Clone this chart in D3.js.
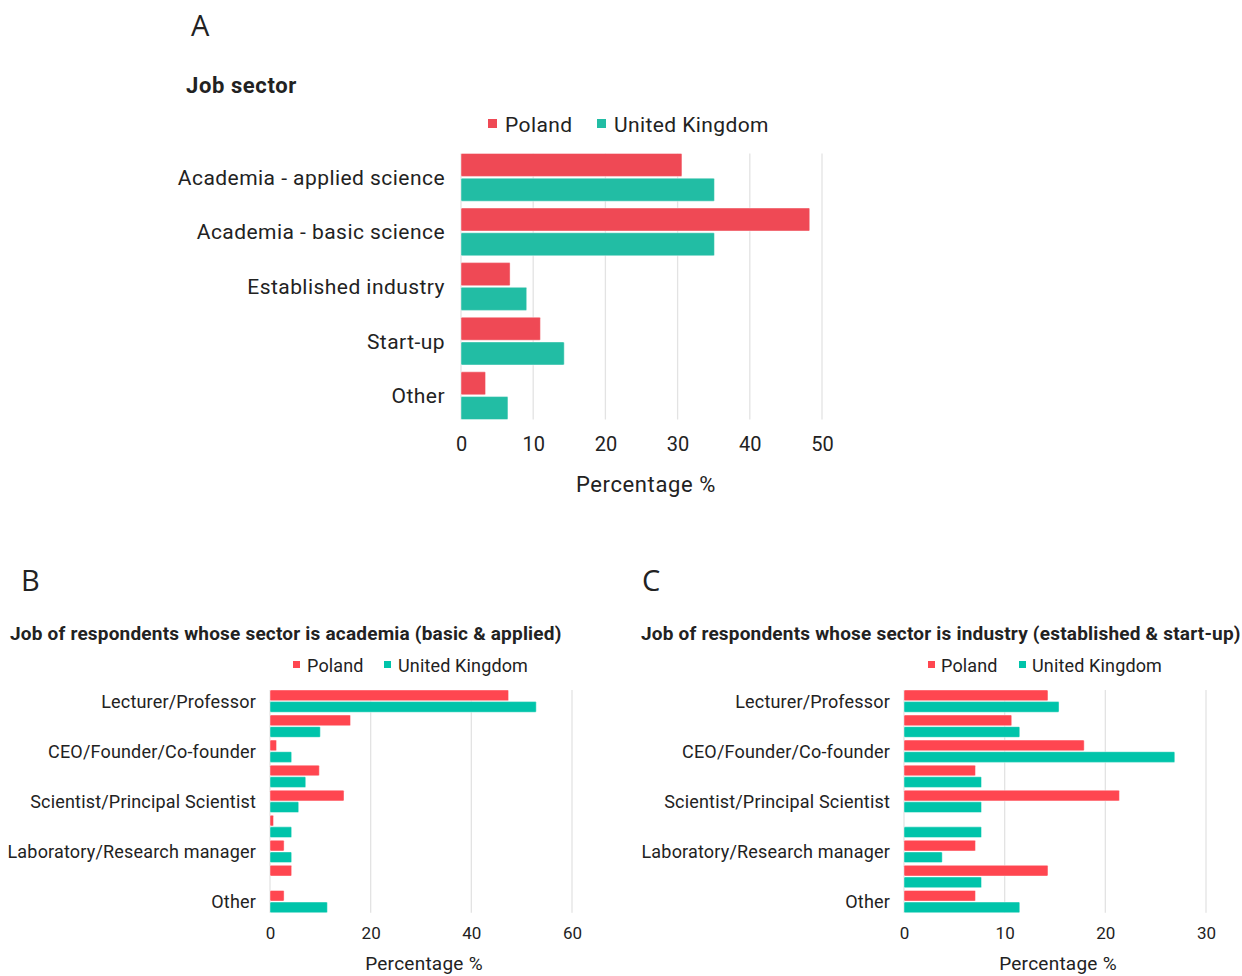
<!DOCTYPE html>
<html>
<head>
<meta charset="utf-8">
<script src="https://cdn.jsdelivr.net/npm/d3@7"></script>
<style>
  html, body { margin: 0; padding: 0; background: #fff; }
  svg { display: block; }
  text { font-family: Roboto, "Noto Sans", sans-serif; fill: #222; }
</style>
</head>
<body>
<svg id="chart" width="1242" height="976"></svg>
<script>
// ---- Panel A: job sector ----
const sectorCategories = [
  "Academia - applied science",
  "Academia - basic science",
  "Established industry",
  "Start-up",
  "Other"
];
const sectorPoland = [30.6, 48.3, 6.8, 11.0, 3.4];
const sectorUK = [35.1, 35.1, 9.1, 14.3, 6.5];
const sectorTicks = [0, 10, 20, 30, 40, 50];

// ---- Panel B: roles within academia ----
// Only every other row carries a visible axis label.
const academiaLabels = [
  "Lecturer/Professor", "",
  "CEO/Founder/Co-founder", "",
  "Scientist/Principal Scientist", "",
  "Laboratory/Research manager", "",
  "Other"
];
const academiaPoland = [47.4, 16.0, 1.3, 9.8, 14.7, 0.7, 2.8, 4.3, 2.8];
const academiaUK = [52.9, 10.0, 4.3, 7.1, 5.7, 4.3, 4.3, 0, 11.4];
const academiaTicks = [0, 20, 40, 60];

// ---- Panel C: roles within industry ----
const industryLabels = academiaLabels;
const industryPoland = [14.3, 10.7, 17.9, 7.1, 21.4, 0, 7.1, 14.3, 7.1];
const industryUK = [15.4, 11.5, 26.9, 7.7, 7.7, 7.7, 3.8, 7.7, 11.5];
const industryTicks = [0, 10, 20, 30];

const seriesNames = ["Poland", "United Kingdom"];

const svg = d3.select("#chart");

function drawPanel(opt) {
  const g = svg.append("g");
  const n = opt.labels.length;
  const x = d3.scaleLinear().domain(opt.domain).range([opt.x0, opt.x1]);
  const y = d3.scaleBand()
    .domain(d3.range(n))
    .range([opt.y0, opt.y1])
    .paddingInner(opt.padInner)
    .paddingOuter(opt.padInner / 2);
  const sub = d3.scaleBand()
    .domain([0, 1])
    .range([0, y.bandwidth()])
    .paddingInner(opt.subPad);

  const top = y(0);
  const bottom = y(n - 1) + y.bandwidth();

  // vertical gridlines
  g.append("g").selectAll("line")
    .data(opt.ticks)
    .join("line")
    .attr("x1", d => x(d)).attr("x2", d => x(d))
    .attr("y1", top).attr("y2", bottom)
    .attr("stroke", "#e3e3e3")
    .attr("stroke-width", 1.3);

  // bars
  const rows = d3.range(n).map(i => [opt.pl[i], opt.uk[i]]);
  const rowG = g.append("g").selectAll("g")
    .data(rows)
    .join("g")
    .attr("transform", (d, i) => `translate(0,${y(i)})`);
  rowG.selectAll("rect")
    .data(d => d.map((v, k) => ({ v, k })).filter(o => o.v > 0))
    .join("rect")
    .attr("x", x(0))
    .attr("y", d => sub(d.k))
    .attr("width", d => x(d.v) - x(0))
    .attr("height", sub.bandwidth())
    .attr("rx", 1)
    .attr("fill", d => opt.colors[d.k])
    .attr("stroke", "rgba(255,255,255,0.55)")
    .attr("stroke-width", 0.8);

  // category labels
  const yAxis = d3.axisLeft(y).tickSize(0).tickPadding(0)
    .tickFormat(i => opt.labels[i]);
  const ya = g.append("g")
    .attr("transform", `translate(${opt.labelX},0)`)
    .call(yAxis);
  ya.select(".domain").remove();
  ya.selectAll("text")
    .attr("font-size", opt.labelSize)
    .attr("letter-spacing", opt.labelSpacing)
    .attr("fill", "#222")
    .attr("dy", "0.36em");

  // value axis
  const xAxis = d3.axisBottom(x).tickValues(opt.ticks).tickSize(0).tickPadding(0)
    .tickFormat(d3.format("d"));
  const xa = g.append("g")
    .attr("transform", `translate(0,${opt.tickY})`)
    .call(xAxis);
  xa.select(".domain").remove();
  xa.selectAll("text")
    .attr("font-size", opt.tickSize)
    .attr("fill", "#222")
    .attr("dy", 0);

  g.append("text")
    .attr("x", opt.axisTitleX)
    .attr("y", opt.axisTitleY)
    .attr("text-anchor", "middle")
    .attr("font-size", opt.axisTitleSize)
    .attr("letter-spacing", opt.axisTitleSpacing)
    .text("Percentage %");

  // panel letter and title
  g.append("text")
    .attr("x", opt.letterX).attr("y", opt.letterY)
    .attr("font-size", 29)
    .style("font-family", "'Open Sans', sans-serif")
    .text(opt.letter);

  g.append("text")
    .attr("x", opt.titleX).attr("y", opt.titleY)
    .attr("font-size", opt.titleSize)
    .attr("letter-spacing", opt.titleSpacing)
    .attr("font-weight", "bold")
    .text(opt.title);

  // legend
  const lg = g.append("g");
  opt.legend.forEach((L, k) => {
    lg.append("rect")
      .attr("x", L.sx).attr("y", opt.legendY - opt.sq)
      .attr("width", opt.sq).attr("height", opt.sq)
      .attr("fill", opt.colors[k]);
    lg.append("text")
      .attr("x", L.tx).attr("y", opt.legendY + opt.legendDy)
      .attr("font-size", opt.legendSize)
      .attr("letter-spacing", opt.legendSpacing)
      .text(seriesNames[k]);
  });
}

drawPanel({
  letter: "A", letterX: 191, letterY: 36,
  title: "Job sector", titleX: 186, titleY: 93, titleSize: 22, titleSpacing: 0.6,
  labels: sectorCategories, pl: sectorPoland, uk: sectorUK,
  ticks: sectorTicks, domain: [0, 50],
  x0: 461, x1: 822, y0: 150, y1: 423, padInner: 0.125, subPad: 0.07,
  colors: ["#ef4955", "#22bda4"],
  labelX: 445, labelSize: 21, labelSpacing: 0.45,
  tickY: 451, tickSize: 20,
  axisTitleX: 646, axisTitleY: 492, axisTitleSize: 22, axisTitleSpacing: 0.6,
  legendY: 128, sq: 9, legendDy: 4, legendSize: 21, legendSpacing: 0.4,
  legend: [{ sx: 488, tx: 505 }, { sx: 597, tx: 614 }]
});

drawPanel({
  letter: "B", letterX: 21, letterY: 591,
  title: "Job of respondents whose sector is academia (basic & applied)",
  titleX: 10, titleY: 640, titleSize: 19, titleSpacing: 0.2,
  labels: academiaLabels, pl: academiaPoland, uk: academiaUK,
  ticks: academiaTicks, domain: [0, 60],
  x0: 270, x1: 572, y0: 688.6, y1: 914.1, padInner: 0.11, subPad: 0.08,
  colors: ["#ff4650", "#00c4aa"],
  labelX: 256, labelSize: 18, labelSpacing: 0.18,
  tickY: 939, tickSize: 17,
  axisTitleX: 424, axisTitleY: 970, axisTitleSize: 19, axisTitleSpacing: 0.25,
  legendY: 668, sq: 7, legendDy: 4, legendSize: 18, legendSpacing: 0.15,
  legend: [{ sx: 293, tx: 307 }, { sx: 384, tx: 398 }]
});

drawPanel({
  letter: "C", letterX: 642, letterY: 591,
  title: "Job of respondents whose sector is industry (established & start-up)",
  titleX: 641, titleY: 640, titleSize: 19, titleSpacing: 0.2,
  labels: industryLabels, pl: industryPoland, uk: industryUK,
  ticks: industryTicks, domain: [0, 30],
  x0: 904, x1: 1206, y0: 688.6, y1: 914.1, padInner: 0.11, subPad: 0.08,
  colors: ["#ff4650", "#00c4aa"],
  labelX: 890, labelSize: 18, labelSpacing: 0.18,
  tickY: 939, tickSize: 17,
  axisTitleX: 1058, axisTitleY: 970, axisTitleSize: 19, axisTitleSpacing: 0.25,
  legendY: 668, sq: 7, legendDy: 4, legendSize: 18, legendSpacing: 0.15,
  legend: [{ sx: 928, tx: 941 }, { sx: 1019, tx: 1032 }]
});
</script>
</body>
</html>
